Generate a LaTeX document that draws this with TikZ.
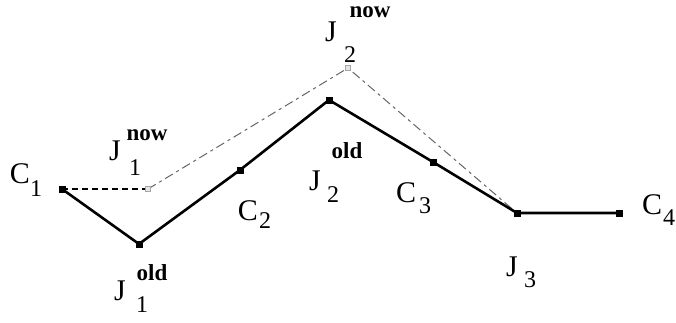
\documentclass[tikz,border=0pt]{standalone}
\usepackage{fontspec}
\setmainfont{Liberation Serif}
\begin{document}
\begin{tikzpicture}[x=1pt,y=-1pt,
  main/.style={inner sep=0pt,font=\fontsize{30}{30}\selectfont},
  idx/.style={inner sep=0pt,font=\fontsize{24}{24}\selectfont},
  sup/.style={inner sep=0pt,font=\fontsize{23}{23}\selectfont\bfseries},
  blk/.style={fill=black,minimum size=7pt,inner sep=0pt,draw=none},
  gry/.style={draw=gray!70,fill=gray!20,line width=0.7pt,minimum size=5pt,inner sep=0pt},
  seg/.style={line width=2.6pt,black},
  olddash/.style={line width=1.6pt,dash pattern=on 6pt off 4pt,black},
  newdash/.style={line width=1pt,black!60,dash pattern=on 9pt off 4pt on 3pt off 4pt}]
\useasboundingbox (0,0) rectangle (676,322);
% points
\coordinate (C1) at (62,189);
\coordinate (J1o) at (139,244);
\coordinate (C2) at (240,170);
\coordinate (J2o) at (329,100);
\coordinate (C3) at (433,162);
\coordinate (J3) at (517,213);
\coordinate (C4) at (619,213);
\coordinate (J1n) at (148,189);
\coordinate (J2n) at (348,68);
% lines
\draw[newdash] (J1n) -- (J2n) -- (J3);
\draw[olddash] (C1) -- (J1n);
\draw[seg,line join=round] (C1) -- (J1o) -- (C2) -- (J2o) -- (C3) -- (J3) -- (C4);
% markers
\foreach \p in {C1,J1o,C2,J2o,C3,J3,C4} \node[blk] (m\p) at (\p) {};
\foreach \p in {J1n,J2n} \node[gry] (m\p) at (\p) {};
% labels
\node[main] (lC1) at (20,174) {C};
\node[idx] (lC1s) at (36,189) {1};
\node[main] (lC2) at (248,211) {C};
\node[idx] (lC2s) at (265,221) {2};
\node[main] (lC3) at (406,193) {C};
\node[idx] (lC3s) at (425,206) {3};
\node[main] (lC4) at (652,205) {C};
\node[idx] (lC4s) at (669,218) {4};
\node[main] (lJ3) at (512,267) {J};
\node[idx] (lJ3s) at (530,280) {3};
\node[main] (lJ1n) at (115,151) {J};
\node[idx] (lJ1ns) at (135,168) {1};
\node[sup] (lJ1nt) at (147,135) {now};
\node[main] (lJ1o) at (120,291) {J};
\node[idx] (lJ1os) at (142,305) {1};
\node[sup] (lJ1ot) at (152,273) {old};
\node[main] (lJ2n) at (331,32) {J};
\node[idx] (lJ2ns) at (350,55) {2};
\node[sup] (lJ2nt) at (370,12) {now};
\node[main] (lJ2o) at (315,181) {J};
\node[idx] (lJ2os) at (333,195) {2};
\node[sup] (lJ2ot) at (347,151) {old};
\end{tikzpicture}
\end{document}
